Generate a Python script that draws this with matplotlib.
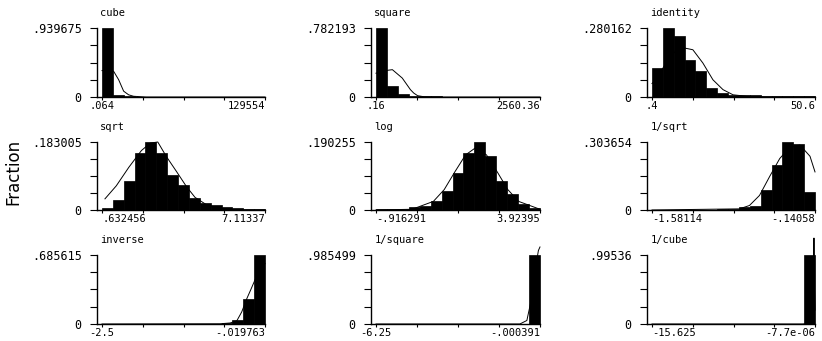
import matplotlib
matplotlib.use('Agg')
import matplotlib.pyplot as plt
import matplotlib.transforms as mtransforms
import numpy as np

# panel names, in the order they are drawn (row by row)
names = ['cube', 'square', 'identity', 'sqrt', 'log', '1/sqrt',
         'inverse', '1/square', '1/cube']

x_min = [0.064, 0.16, 0.4, 0.632456, -0.916291, -1.58114, -2.5, -6.25, -15.625]
x_max = [129554, 2560.36, 50.6, 7.11337, 3.92395, -0.14058, -0.019763, -0.000391, -7.7e-06]
min_labels = ['.064', '.16', '.4', '.632456', '-.916291', '-1.58114', '-2.5', '-6.25', '-15.625']
max_labels = ['129554', '2560.36', '50.6', '7.11337', '3.92395', '-.14058', '-.019763', '-.000391', '-7.7e-06']
top_frac = [0.939675, 0.782193, 0.280162, 0.183005, 0.190255, 0.303654, 0.685615, 0.985499, 0.99536]
top_labels = ['.939675', '.782193', '.280162', '.183005', '.190255', '.303654', '.685615', '.985499', '.99536']

# bar heights (fraction per bin, 15 bins each)
cube_bars = [0.939675, 0.03, 0.01, 0.005, 0.003, 0.002, 0.001, 0.001, 0.001,
             0.0005, 0.0005, 0.0005, 0.0005, 0.0005, 0.0005]
square_bars = [0.782193, 0.13, 0.038, 0.015, 0.008, 0.006, 0.004, 0.003, 0.003,
               0.002, 0.002, 0.002, 0.002, 0.001, 0.001]
identity_bars = [0.118, 0.280162, 0.249, 0.149, 0.104, 0.037, 0.016, 0.010,
                 0.008, 0.007, 0.006, 0.005, 0.004, 0.004, 0.003]
sqrt_bars = [0.005, 0.027, 0.077, 0.153, 0.183005, 0.153, 0.095, 0.068, 0.032,
             0.018, 0.013, 0.009, 0.006, 0.004, 0.003]
log_bars = [0.002, 0.002, 0.003, 0.009, 0.010, 0.026, 0.052, 0.103, 0.159,
            0.190255, 0.15, 0.08, 0.045, 0.018, 0.006]
isqrt_bars = [0.001, 0.001, 0.001, 0.001, 0.002, 0.002, 0.003, 0.004, 0.012,
              0.02, 0.09, 0.2, 0.303654, 0.296, 0.082]
inverse_bars = [0.001, 0.001, 0.001, 0.001, 0.001, 0.001, 0.002, 0.002, 0.002,
                0.003, 0.004, 0.008, 0.035, 0.248, 0.685615]
isquare_bars = [0.001] * 14 + [0.985499]
icube_bars = [0.0003] * 14 + [0.99536]

# normal density overlay
cube_cx = [0.064, 5000, 9254, 13220, 17186, 21150, 25118, 35000, 129554]
cube_cy = [0.36, 0.37, 0.35, 0.236, 0.08, 0.03, 0.01, 0.0, 0.0]
square_cx = [0.16, 150, 256, 410, 538, 589, 650, 750, 900, 2560.36]
square_cy = [0.27, 0.30, 0.31, 0.215, 0.083, 0.045, 0.015, 0.003, 0.0, 0.0]
identity_cx = [0.4, 1.6, 4.7, 7.8, 10.4, 12.98, 16.07, 19.16, 22.26, 25.35, 29.5, 35, 50.6]
identity_cy = [0.055, 0.07, 0.138, 0.19, 0.199, 0.192, 0.138, 0.070, 0.030, 0.009, 0.003, 0.0, 0.0]
sqrt_cx = [0.75, 1.2, 1.7, 2.2, 2.55, 2.85, 3.19, 3.59, 3.99, 4.33, 4.8, 5.3, 5.9, 7.11337]
sqrt_cy = [0.03, 0.065, 0.115, 0.16, 0.18, 0.183, 0.144, 0.104, 0.063, 0.034, 0.0135, 0.0045, 0.0, 0.0]
log_cx = [-0.916291, 0.148, 0.777, 1.097, 1.407, 1.726, 2.036, 2.346, 2.666, 2.975, 3.295, 3.92395]
log_cy = [0.0, 0.002, 0.024, 0.057, 0.106, 0.154, 0.175, 0.154, 0.106, 0.057, 0.024, 0.002]
isqrt_cx = [-1.58114, -0.809, -0.720, -0.631, -0.541, -0.452, -0.363, -0.274, -0.185, -0.14058]
isqrt_cy = [0.0, 0.005, 0.02, 0.065, 0.15, 0.23, 0.28, 0.29, 0.24, 0.17]
inverse_cx = [-2.5, -0.703, -0.551, -0.450, -0.374, -0.298, -0.237, -0.171, -0.096, -0.019763]
inverse_cy = [0.0, 0.002, 0.01, 0.03, 0.12, 0.25, 0.34, 0.44, 0.53, 0.6]
isquare_cx = [-6.25, -0.766, -0.5, -0.3, -0.15, -0.06, -0.000391]
isquare_cy = [0.0, 0.0, 0.05, 0.4, 0.85, 1.05, 1.1]
icube_cx = [-15.625, -1.2, -0.3, -0.13, -0.1, -0.07, -7.7e-06]
icube_cy = [0.0, 0.0, 0.01, 0.6, 1.24, 0.6, 0.2]

bars = [cube_bars, square_bars, identity_bars, sqrt_bars, log_bars, isqrt_bars,
        inverse_bars, isquare_bars, icube_bars]
curves_x = [cube_cx, square_cx, identity_cx, sqrt_cx, log_cx, isqrt_cx,
            inverse_cx, isquare_cx, icube_cx]
curves_y = [cube_cy, square_cy, identity_cy, sqrt_cy, log_cy, isqrt_cy,
            inverse_cy, isquare_cy, icube_cy]

# layout (figure fractions)
lefts = [0.118, 0.4513, 0.7871]
widths = [0.2044, 0.2056, 0.2044]
bottoms = [0.7155, 0.3842, 0.0499]
heights = [0.2023, 0.1994, 0.2023]

mono = 'DejaVu Sans Mono'
ytick_size = 8.5
xtick_size = 7.5
title_size = 7.5
char_px = 0.602 * xtick_size / 72 * 100  # mono glyph advance in pixels

fig = plt.figure(figsize=(8.22, 3.41), dpi=100)

for i, name in enumerate(names):
    r, c = divmod(i, 3)
    ax = fig.add_axes([lefts[c], bottoms[r], widths[c], heights[r]])
    lo, hi = x_min[i], x_max[i]
    rng = hi - lo
    edges = np.linspace(lo, hi, len(bars[i]) + 1)
    ax.bar(edges[:-1], bars[i], width=edges[1] - edges[0], align='edge',
           color='black', edgecolor='black', linewidth=0.5, clip_on=False)
    ax.plot(curves_x[i], curves_y[i], color='black', lw=0.7, clip_on=False)

    ax.set_xlim(lo - 0.0307 * rng, hi)
    ax.set_ylim(0, top_frac[i])

    ax.set_xticks(np.linspace(lo, hi, 5))
    ax.set_xticklabels([min_labels[i], '', '', '', max_labels[i]],
                       fontfamily=mono, fontsize=xtick_size)
    ax.get_xticklabels()[-1].set_ha('right')
    # long min labels would run into the "0" of the y axis: start them just right of it
    half_w = len(min_labels[i]) * char_px / 2
    if half_w > 17:
        first = ax.get_xticklabels()[0]
        first.set_ha('left')
        first.set_transform(first.get_transform() +
                            mtransforms.ScaledTranslation(-13 / 100, 0, fig.dpi_scale_trans))
    ax.set_yticks(np.linspace(0, top_frac[i], 5))
    ax.set_yticklabels(['0', '', '', '', top_labels[i]],
                       fontfamily=mono, fontsize=ytick_size)

    ax.tick_params(axis='y', length=5, width=0.8, pad=6)
    ax.tick_params(axis='x', length=2, width=0.8, pad=1.2)
    for s in ['top', 'right']:
        ax.spines[s].set_visible(False)
    for s in ['left', 'bottom']:
        ax.spines[s].set_linewidth(1.0)

    ax.text(0.02, 1.22, name, transform=ax.transAxes, ha='left', va='center',
            fontfamily=mono, fontsize=title_size)

fig.text(0.016, 0.496, 'Fraction', rotation=90, ha='center', va='center',
         fontsize=12)

fig.savefig('out.png', dpi=100)
